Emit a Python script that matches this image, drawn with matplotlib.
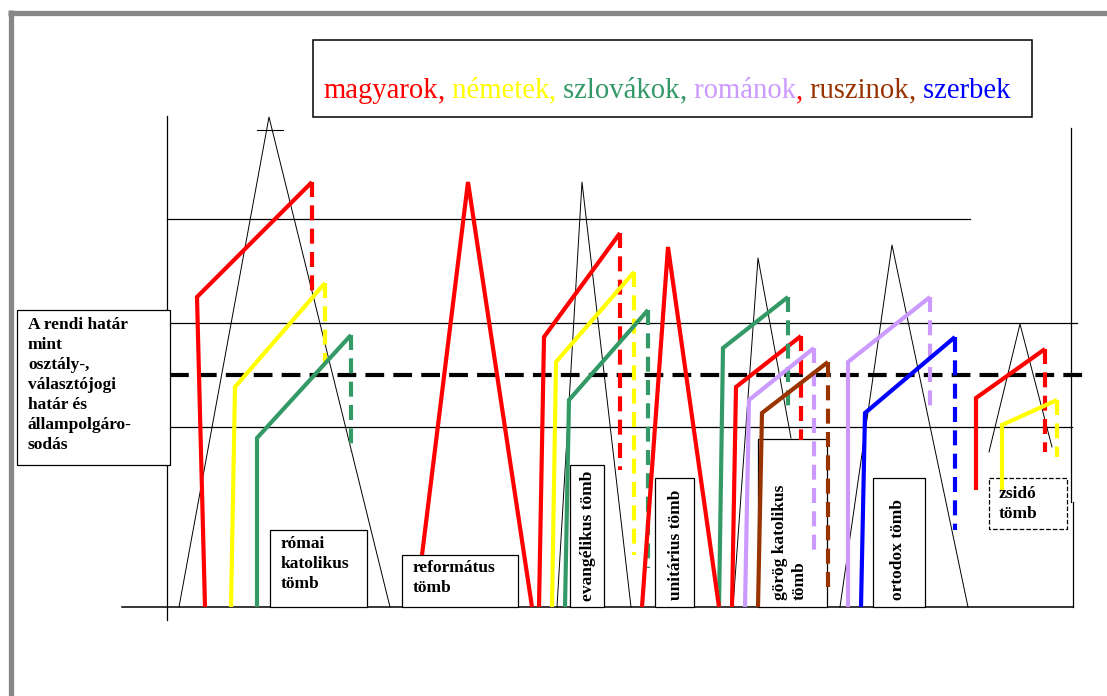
import matplotlib
matplotlib.use("Agg")
import matplotlib.pyplot as plt
from matplotlib.patches import Rectangle

# nations shown in the legend line and their colours
nations = ["magyarok", "németek", "szlovákok", "románok", "ruszinok", "szerbek"]
nation_colors = ["#ff0000", "#ffff00", "#339966", "#cc99ff", "#993300", "#0000ff"]
legend_commas = ["#ff0000", "#ffff00", "#339966", "#ff0000", "#993300", None]

# profile of each nation inside a denominational block:
# (x_base, y_base, x_knee, y_knee, x_peak, y_peak, y_drop)
magyar_profiles = [(205, 607, 197, 297, 312, 182, 297),
                   (539, 607, 544, 337, 620, 233, 470),
                   (732, 607, 736, 387, 801, 336, 440),
                   (976, 490, 976, 398, 1045, 349, 452)]
nemet_profiles = [(231, 607, 235, 387, 325, 283, 363),
                  (552, 607, 556, 362, 634, 272, 555),
                  (1002, 490, 1002, 425, 1057, 400, 457)]
szlovak_profiles = [(257, 607, 257, 438, 351, 335, 452),
                    (565, 607, 569, 400, 648, 310, 568),
                    (719, 607, 723, 348, 788, 297, 413)]
roman_profiles = [(745, 607, 749, 400, 814, 348, 555),
                  (848, 607, 848, 362, 930, 297, 413)]
ruszin_profiles = [(758, 607, 762, 413, 828, 362, 593)]
szerb_profiles = [(861, 607, 865, 413, 955, 337, 530)]

# pure magyar peaks (református, unitárius): (x_left, y_left, x_top, y_top, x_right, y_right)
magyar_peaks = [(422, 555, 468, 182, 532, 607),
                (642, 607, 668, 247, 719, 607)]

# thin black "society" triangles
triangles = [(179, 607, 269, 117, 390, 607),
             (557, 607, 582, 182, 631, 607),
             (733, 607, 758, 258, 791, 438),
             (840, 607, 892, 245, 968, 607),
             (989, 452, 1020, 324, 1052, 447)]

# horizontal level lines: (y, x_end)
level_lines = [(219, 970), (323, 1077), (427, 1072)]
estate_border_y = 375

# denominational blocks
block_labels = ["római\nkatolikus\ntömb", "református\ntömb", "evangélikus tömb",
                "unitárius tömb", "görög katolikus\ntömb", "ortodox tömb", "zsidó\ntömb"]
block_boxes = [(270, 530, 367, 607), (402, 555, 518, 607), (570, 465, 604, 607),
               (655, 478, 694, 607), (758, 439, 827, 607), (873, 478, 925, 607),
               (989, 478, 1067, 529)]
block_text_pos = [(281, 536), (413, 560), (588, 601), (676, 600), (790, 600), (898, 600), (999, 486)]
block_rotated = [False, False, True, True, True, True, False]

side_label = "A rendi határ\nmint\nosztály-,\nválasztójogi\nhatár és\nállampolgáro-\nsodás"

SERIF = ["Liberation Serif", "DejaVu Serif"]
THICK = 3.0


def main():
    fig = plt.figure(figsize=(11.07, 6.96), dpi=100)
    ax = fig.add_axes([0, 0, 1, 1])
    ax.set_xlim(0, 1107)
    ax.set_ylim(696, 0)
    ax.axis("off")

    # page frame
    ax.plot([8, 1107], [12.5, 12.5], color="#878787", lw=3.8, solid_capstyle="butt")
    ax.plot([10.5, 10.5], [10, 696], color="#878787", lw=3.8, solid_capstyle="butt")

    # axes of the scheme
    ax.plot([167, 167], [116, 620], color="black", lw=0.9)
    ax.plot([122, 1073], [607, 607], color="black", lw=1.1)
    ax.plot([1071, 1071], [128, 502], color="black", lw=0.9)
    ax.plot([1073, 1073], [502, 607], color="black", lw=0.9)
    for y, x_end in level_lines:
        ax.plot([167, x_end], [y, y], color="black", lw=0.9)
    ax.plot([170, 1085], [estate_border_y, estate_border_y], color="black", lw=THICK,
            dashes=(4.5, 2.2), zorder=2)

    for x0, y0, xt, yt, x1, y1 in triangles:
        ax.plot([x0, xt, x1], [y0, yt, y1], color="black", lw=0.7, zorder=1)
    ax.plot([257, 283], [130, 130], color="black", lw=0.8)

    # boxes of the blocks
    for i, (x0, y0, x1, y1) in enumerate(block_boxes):
        ls = "--" if i == len(block_boxes) - 1 else "-"
        ax.add_patch(Rectangle((x0, y0), x1 - x0, y1 - y0, fc="white", ec="black",
                               lw=0.9, ls=ls, zorder=2.5))
    for label, (x, y), rot in zip(block_labels, block_text_pos, block_rotated):
        if rot:
            ax.text(x, y, label, rotation=90, ha="center", va="bottom", multialignment="left",
                    family=SERIF, fontweight="bold", fontsize=12.5, linespacing=1.3, zorder=6)
        else:
            ax.text(x, y, label, ha="left", va="top", family=SERIF, fontweight="bold",
                    fontsize=12.5, linespacing=1.33, zorder=6)

    # nation profiles
    all_profiles = [magyar_profiles, nemet_profiles, szlovak_profiles,
                    roman_profiles, ruszin_profiles, szerb_profiles]
    for profiles, color in zip(all_profiles, nation_colors):
        for xb, yb, xk, yk, xp, yp, yd in profiles:
            ax.plot([xb, xk, xp], [yb, yk, yp], color=color, lw=THICK,
                    solid_joinstyle="miter", solid_capstyle="butt", zorder=4)
            ax.plot([xp, xp], [yp, yd], color=color, lw=THICK, dashes=(3.6, 2.0), zorder=4)
    for x0, y0, xt, yt, x1, y1 in magyar_peaks:
        ax.plot([x0, xt, x1], [y0, yt, y1], color=nation_colors[0], lw=THICK,
                solid_joinstyle="miter", solid_capstyle="butt", zorder=4)

    # side box
    ax.add_patch(Rectangle((17, 310), 153, 155, fc="white", ec="black", lw=0.9, zorder=5))
    ax.text(28, 317, side_label, ha="left", va="top", family=SERIF, fontweight="bold",
            fontsize=12.5, linespacing=1.33, zorder=6)

    # legend line
    ax.add_patch(Rectangle((313, 40), 719, 77, fc="white", ec="black", lw=1.1, zorder=5))
    renderer = fig.canvas.get_renderer()
    x = 323
    pieces = []
    for i, (name, color) in enumerate(zip(nations, nation_colors)):
        pieces.append(((" " if i else "") + name, color))
        if legend_commas[i]:
            pieces.append((",", legend_commas[i]))
    for txt, color in pieces:
        t = ax.text(x, 98, txt, color=color, family=SERIF, fontsize=20.6,
                    ha="left", va="baseline", zorder=6)
        x = t.get_window_extent(renderer).x1

    fig.savefig("out.png", dpi=100)


if __name__ == "__main__":
    main()
